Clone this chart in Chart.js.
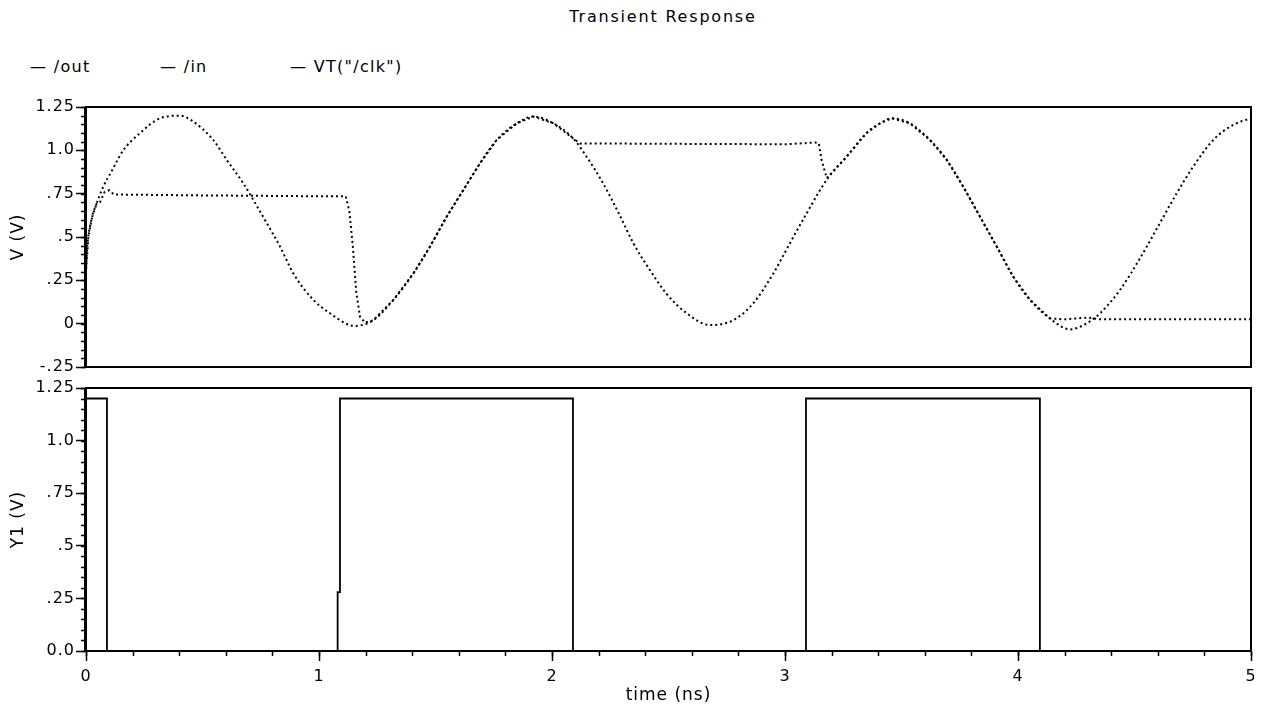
<!DOCTYPE html>
<html>
<head>
<meta charset="utf-8">
<script src="https://cdn.jsdelivr.net/npm/chart.js@4.4.1/dist/chart.umd.min.js"></script>
<style>
body { margin: 0; background: #fff; }
#wrap { position: relative; width: 1263px; height: 707px; background: #fff; font-family: "DejaVu Sans", sans-serif; color: #000; }
#titulo { position: absolute; left: 663px; top: 7px; transform: translateX(-50%); font-size: 16px; letter-spacing: 1.8px; white-space: nowrap; }
.leg { position: absolute; top: 57px; font-size: 16px; letter-spacing: 1.3px; white-space: nowrap; }
canvas { position: absolute; left: 0; }
#cTop { top: 90px; }
#cBot { top: 370px; }
</style>
</head>
<body>
<div id="wrap">
  <div id="titulo">Transient Response</div>
  <div id="legenda"></div>
  <canvas id="cTop" width="1263" height="290"></canvas>
  <canvas id="cBot" width="1263" height="337"></canvas>
</div>
<script>
// nomes das curvas (legenda)
const nomes = ['/out', '/in', 'VT("/clk")'];
const posLegenda = [30, 160, 290];

// eixos
const tMin = 0, tMax = 5;
const xTicks = [0, 1, 2, 3, 4, 5];
const yTopTicks = [-0.25, 0, 0.25, 0.5, 0.75, 1.0, 1.25];
const yTopLabels = ['-.25', '0', '.25', '.5', '.75', '1.0', '1.25'];
const yBotTicks = [0, 0.25, 0.5, 0.75, 1.0, 1.25];
const yBotLabels = ['0.0', '.25', '.5', '.75', '1.0', '1.25'];

// /in
const tIn = [0, 0.005, 0.017, 0.04, 0.074, 0.11, 0.16, 0.232, 0.318, 0.403,
  0.46, 0.546, 0.604, 0.675, 0.718, 0.776, 0.833, 0.89, 0.976, 1.047,
  1.119, 1.15, 1.233, 1.319, 1.405, 1.476, 1.548, 1.619, 1.691, 1.763,
  1.849, 1.92, 2.006, 2.09, 2.148, 2.215, 2.29, 2.349, 2.42, 2.49,
  2.578, 2.678, 2.778, 2.864, 2.95, 3.021, 3.093, 3.179, 3.265, 3.35,
  3.408, 3.458, 3.536, 3.622, 3.694, 3.765, 3.837, 3.909, 3.98, 4.052,
  4.137, 4.223, 4.295, 4.352, 4.438, 4.524, 4.609, 4.681, 4.752, 4.838,
  4.924, 5.0];
const vIn = [0.30, 0.44, 0.56, 0.67, 0.79, 0.88, 1.0, 1.10, 1.185, 1.20,
  1.166, 1.06, 0.945, 0.81, 0.714, 0.58, 0.444, 0.29, 0.137, 0.06,
  -0.002, -0.013, 0.02, 0.137, 0.29, 0.444, 0.617, 0.77, 0.925, 1.06,
  1.156, 1.195, 1.156, 1.07, 0.964, 0.82, 0.627, 0.464, 0.31, 0.175,
  0.06, -0.008, 0.02, 0.118, 0.29, 0.464, 0.637, 0.83, 0.964, 1.10,
  1.156, 1.185, 1.156, 1.06, 0.945, 0.79, 0.617, 0.444, 0.27, 0.137,
  0.03, -0.033, 0.002, 0.06, 0.195, 0.378, 0.58, 0.752, 0.906, 1.06,
  1.147, 1.185];

// /out
const tOut = [0, 0.01, 0.03, 0.045, 0.06, 0.08, 0.1, 0.12, 0.5, 1.0,
  1.115, 1.13, 1.145, 1.16, 1.176, 1.197, 1.233, 1.319, 1.405, 1.476,
  1.548, 1.619, 1.691, 1.763, 1.849, 1.92, 2.006, 2.09, 2.12, 2.6,
  3.0, 3.13, 3.145, 3.157, 3.179, 3.265, 3.35, 3.408, 3.458, 3.536,
  3.622, 3.694, 3.765, 3.837, 3.909, 3.98, 4.052, 4.137, 4.2, 4.3,
  4.35, 5.0];
const vOut = [0.30, 0.50, 0.64, 0.69, 0.70, 0.76, 0.77, 0.745, 0.74, 0.735,
  0.735, 0.65, 0.45, 0.18, 0.04, 0.006, 0.02, 0.137, 0.29, 0.444,
  0.617, 0.77, 0.925, 1.06, 1.156, 1.195, 1.156, 1.07, 1.04, 1.037,
  1.035, 1.045, 1.04, 0.945, 0.84, 0.964, 1.10, 1.156, 1.185, 1.156,
  1.06, 0.945, 0.79, 0.617, 0.444, 0.27, 0.137, 0.03, 0.025, 0.035,
  0.025, 0.025];

// VT("/clk")
const tClk = [0, 0, 0.09, 0.09, 1.08, 1.08, 1.09, 1.09, 2.09, 2.09, 3.09, 3.09, 4.094, 4.094, 5];
const vClk = [0, 1.2, 1.2, 0, 0, 0.28, 0.28, 1.2, 1.2, 0, 0, 1.2, 1.2, 0, 0];

function pares(ts, vs) {
  return ts.map((t, i) => ({ x: t, y: vs[i] }));
}

// legenda em html
let htmlLeg = '';
nomes.forEach((n, i) => {
  htmlLeg += `<span class="leg" style="left:${posLegenda[i]}px">—&nbsp;${n}</span>`;
});
document.getElementById('legenda').innerHTML = htmlLeg;

const fonteTick = { family: '"DejaVu Sans", sans-serif', size: 16 };
const fonteTitulo = { family: '"DejaVu Sans", sans-serif', size: 17 };

// espacamento das letras no canvas
const espaco = {
  id: 'espaco',
  beforeDraw(chart) { chart.ctx.letterSpacing = '1px'; }
};

// moldura e ticks menores
const moldura = {
  id: 'moldura',
  afterDraw(chart, args, opts) {
    const a = chart.chartArea, ctx = chart.ctx;
    ctx.save();
    ctx.strokeStyle = '#000';
    ctx.lineWidth = 2;
    ctx.strokeRect(a.left, a.top, a.right - a.left, a.bottom - a.top);
    ctx.beginPath(); ctx.moveTo(a.left - 0.5, a.top); ctx.lineTo(a.left - 0.5, a.bottom); ctx.lineWidth = 3; ctx.stroke();
    ctx.lineWidth = 1.5;
    if (opts.y) {
      const s = chart.scales.y;
      const n = Math.round((s.max - s.min) / opts.y);
      for (let i = 0; i <= n; i++) {
        const p = Math.round(s.getPixelForValue(s.min + i * opts.y)) + 0.5;
        ctx.beginPath(); ctx.moveTo(a.left - 5, p); ctx.lineTo(a.left, p); ctx.stroke();
      }
    }
    if (opts.x) {
      const s = chart.scales.x;
      const n = Math.round((s.max - s.min) / opts.x);
      for (let i = 0; i <= n; i++) {
        const p = Math.round(s.getPixelForValue(s.min + i * opts.x)) + 0.5;
        ctx.beginPath(); ctx.moveTo(p, a.bottom); ctx.lineTo(p, a.bottom + 5); ctx.stroke();
      }
    }
    ctx.restore();
  }
};

function eixoY(ticks, labels, titulo) {
  return {
    type: 'linear',
    min: ticks[0], max: ticks[ticks.length - 1],
    afterBuildTicks: s => { s.ticks = ticks.map(v => ({ value: v })); },
    afterFit: s => { s.width = 86; },
    ticks: {
      color: '#000', font: fonteTick, padding: 1,
      callback: v => labels[ticks.indexOf(v)]
    },
    grid: { drawOnChartArea: false, tickLength: 10, tickColor: '#000', tickWidth: 1.5 },
    border: { display: true, color: '#000', width: 2 },
    title: { display: true, text: titulo, color: '#000', font: fonteTitulo, padding: { top: 8, bottom: 0 } }
  };
}

const linhaPontilhada = { borderColor: '#000', borderWidth: 2, borderDash: [2, 3], pointRadius: 0, fill: false };

new Chart(document.getElementById('cTop'), {
  type: 'line',
  data: {
    datasets: [
      Object.assign({ label: nomes[0], data: pares(tOut, vOut), tension: 0, borderDashOffset: 2.5 }, linhaPontilhada),
      Object.assign({ label: nomes[1], data: pares(tIn, vIn), cubicInterpolationMode: 'monotone' }, linhaPontilhada)
    ]
  },
  options: {
    responsive: false, animation: false,
    layout: { padding: { left: 0, right: 12, top: 17, bottom: 13 } },
    plugins: { legend: { display: false }, tooltip: { enabled: false }, moldura: { y: 0.05 } },
    scales: {
      x: { type: 'linear', min: tMin, max: tMax, display: false },
      y: eixoY(yTopTicks, yTopLabels, 'V (V)')
    }
  },
  plugins: [espaco, moldura]
});

new Chart(document.getElementById('cBot'), {
  type: 'line',
  data: {
    datasets: [
      { label: nomes[2], data: pares(tClk, vClk), borderColor: '#000', borderWidth: 1.8, pointRadius: 0, tension: 0, fill: false }
    ]
  },
  options: {
    responsive: false, animation: false,
    layout: { padding: { left: 0, right: 12, top: 18, bottom: 0 } },
    plugins: { legend: { display: false }, tooltip: { enabled: false }, moldura: { y: 0.05, x: 0.2 } },
    scales: {
      x: {
        type: 'linear', min: tMin, max: tMax,
        afterBuildTicks: s => { s.ticks = xTicks.map(v => ({ value: v })); },
        afterFit: s => { s.height = 56; },
        ticks: { color: '#000', font: fonteTick, padding: 6, callback: v => String(v) },
        grid: { drawOnChartArea: false, tickLength: 10, tickColor: '#000', tickWidth: 1.5 },
        border: { display: true, color: '#000', width: 2 },
        title: { display: true, text: 'time (ns)', color: '#000', font: fonteTitulo, padding: { top: 0, bottom: 1 } }
      },
      y: eixoY(yBotTicks, yBotLabels, 'Y1 (V)')
    }
  },
  plugins: [espaco, moldura]
});
</script>
</body>
</html>
